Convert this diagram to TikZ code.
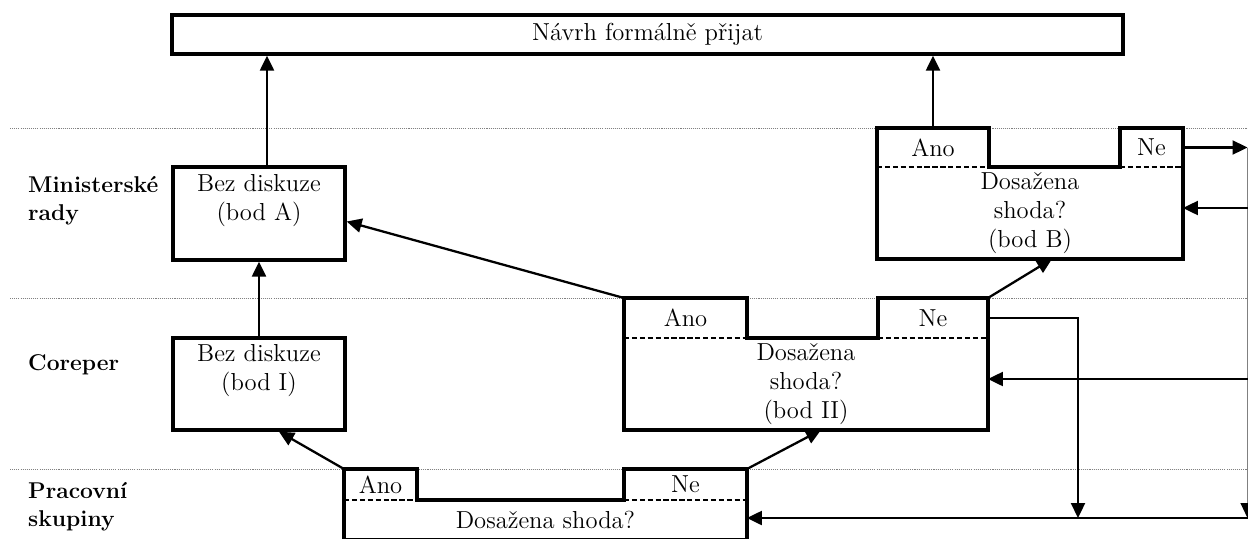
\documentclass[tikz,border=0pt]{standalone}
\usetikzlibrary{arrows.meta}
\usetikzlibrary{positioning}
\tikzset{
    every node/.style={font=\fontsize{14}{16.5}\selectfont},
    box/.style={
        draw,
        line width=1.9pt,
        inner sep=0pt},
    tab/.style={
        inner sep=0pt,
        outer sep=0pt},
    body/.style={
        inner sep=0pt,
        outer sep=0pt,
        align=center},
    lab/.style={
        anchor=west,
        align=left,
        font=\fontsize{13}{15.9}\selectfont\bfseries},
    lane/.style={
        gray,
        line width=0.5pt,
        dash pattern=on 0.6pt off 0.6pt},
    outline/.style={
        line width=1.9pt,
        line join=miter},
    split/.style={
        line width=0.9pt,
        dash pattern=on 3pt off 1.5pt},
    flow/.style={
        draw,
        line width=1.3pt,
        -{Triangle[length=0.3cm,width=0.28cm,color=black]}}}

\begin{document}
\begin{tikzpicture}[x=0.02cm,y=-0.02cm]
        \clip (0,0) rectangle (1248,538);

        \draw[lane] (10,128) -- (1248,128);
        \draw[lane] (10,298) -- (1248,298);
        \draw[lane] (10,469) -- (1248,469);

        \node[lab] (lMin) at (22,201) {Ministerské\\rady};
        \node[lab] (lCor) at (22,365) {Coreper};
        \node[lab] (lPra) at (22,507) {Pracovní\\skupiny};

        \node[box, minimum width=19.02cm, minimum height=0.78cm] (prijat) at (647.5,34.5) {Návrh formálně přijat};

        \node[box, minimum width=3.44cm, minimum height=1.86cm] (bodA) at (259,213.5) {};
        \node[align=center] (txtA) at (259,201) {Bez diskuze\\(bod A)};
        \node[box, minimum width=3.44cm, minimum height=1.84cm] (bodI) at (259,384) {};
        \node[align=center] (txtI) at (259,371) {Bez diskuze\\(bod I)};

        \node[tab, minimum width=2.24cm, minimum height=0.78cm] (anoB) at (933,147.5) {Ano};
        \node[body, minimum width=6.12cm, minimum height=1.84cm, below right=0pt of anoB.south west] (bodyB) {Dosažena\\shoda?\\(bod B)};
        \node[tab, minimum width=1.26cm, minimum height=0.78cm, above left=0pt of bodyB.north east] (neB) {Ne};
        \draw[outline] (anoB.south west) |- (anoB.north east) |- (neB.south west) |- (neB.north east) -- (bodyB.south east) -| (anoB.south west) -- cycle;
        \draw[split] (anoB.south west) -- (anoB.south east) (neB.south west) -- (neB.south east);

        \node[tab, minimum width=2.46cm, minimum height=0.8cm] (anoII) at (685.5,318) {Ano};
        \node[body, minimum width=7.28cm, minimum height=1.84cm, below right=0pt of anoII.south west] (bodyII) {Dosažena\\shoda?\\(bod II)};
        \node[tab, minimum width=2.2cm, minimum height=0.8cm, above left=0pt of bodyII.north east] (neII) {Ne};
        \draw[outline] (anoII.south west) |- (anoII.north east) |- (neII.south west) |- (neII.north east) -- (bodyII.south east) -| (anoII.south west) -- cycle;
        \draw[split] (anoII.south west) -- (anoII.south east) (neII.south west) -- (neII.south east);

        \node[tab, minimum width=1.46cm, minimum height=0.62cm] (anoP) at (380.5,484.5) {Ano};
        \node[body, minimum width=8.06cm, minimum height=0.8cm, below right=0pt of anoP.south west] (bodyP) {Dosažena shoda?};
        \node[tab, minimum width=2.46cm, minimum height=0.62cm, above left=0pt of bodyP.north east] (neP) {Ne};
        \draw[outline] (anoP.south west) |- (anoP.north east) |- (neP.south west) |- (neP.north east) -- (bodyP.south east) -| (anoP.south west) -- cycle;
        \draw[split] (anoP.south west) -- (anoP.south east) (neP.south west) -- (neP.south east);

        \coordinate (outB) at (1247.5,147.5);
        \coordinate (inB) at (1247.5,208);
        \coordinate (inII) at (1247.5,379);
        \coordinate (inP) at (1247.5,518);
        \coordinate (dropII) at (1078,518);

        \draw[flow] (anoP.north west) -- ([xshift=0.4cm]bodI.south);
        \draw[flow] (neP.north east) -- ([xshift=0.3cm]bodyII.south);
        \draw[flow] (anoII.north west) -- ([yshift=-0.16cm]bodA.east);
        \draw[flow] (neII.north east) -- ([xshift=0.44cm]bodyB.south);
        \draw[flow] (bodI.north) -- (bodA.south);
        \draw[flow] ([xshift=0.16cm]bodA.north) -- ([xshift=0.16cm]bodA.north |- prijat.south);
        \draw[flow] (anoB.north) -- (anoB.north |- prijat.south);

        \draw[flow] (neB.east) -- (outB);
        \draw[flow, line width=0.6pt, draw=gray] (outB) -- (inP);
        \draw[flow] (inB) -- (inB -| bodyB.east);
        \draw[flow] (inII) -- (inII -| bodyII.east);
        \draw[flow] (neII.east) -| (dropII);
        \draw[flow] (inP) -- (inP -| bodyP.east);
    \end{tikzpicture}
\end{document}
